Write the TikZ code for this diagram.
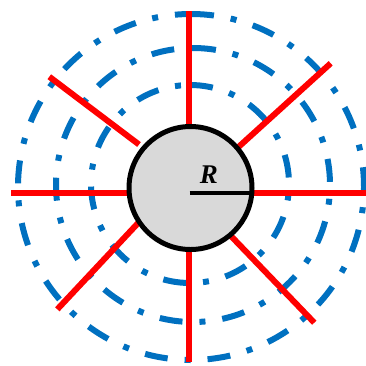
\documentclass[tikz,border=0pt]{standalone}
\usepackage{fontspec}
\usepackage{tikz}
\usetikzlibrary{positioning}

\newfontfamily\labelfont{Liberation Serif}
\definecolor{ringblue}{RGB}{0,112,192}
\definecolor{hubgray}{RGB}{217,217,217}

\tikzset{
  ring/.style={ringblue, line width=6pt,
    dash pattern=on 23pt off 17pt on 6pt off 17pt},
  ray/.style={red, line width=6pt},
}

\begin{document}
\begin{tikzpicture}[x=1pt, y=-1pt]
  \useasboundingbox (0,0) rectangle (366,365);

  % Dash-dot rings
  \foreach \cx/\cy/\r in {191/187/173, 193/185/137, 190/184/99}
    \draw[ring] (\cx,\cy) ++(0,-\r)
      arc[start angle=-90, end angle=270, radius=\r];

  % Rays
  \draw[ray] (189.3,11.3) -- (189.3,128);
  \draw[ray] (189.3,249) -- (189.3,362.3);
  \draw[ray] (11.3,192.8) -- (130,192.8);
  \draw[ray] (251,192.8) -- (366,192.8);
  \draw[ray] (49.3,76.7) -- (139,144.5);
  \draw[ray] (330.7,63.3) -- (239,146.5);
  \draw[ray] (140,221) -- (57.3,309.3);
  \draw[ray] (230,235) -- (314.3,322.7);

  % Hub with its radius
  \node[circle, draw, line width=5pt, fill=hubgray, minimum size=123pt,
    inner sep=0pt, outer sep=0pt] (hub) at (190.5,188) {};
  \coordinate (rstart) at (189.5,192.5);
  \draw[line width=4pt] (rstart) -- (hub.east |- rstart);
  \node[font=\labelfont\fontsize{27}{27}\selectfont\bfseries\itshape] (rlabel)
    at (209,174.5) {R};
\end{tikzpicture}
\end{document}
